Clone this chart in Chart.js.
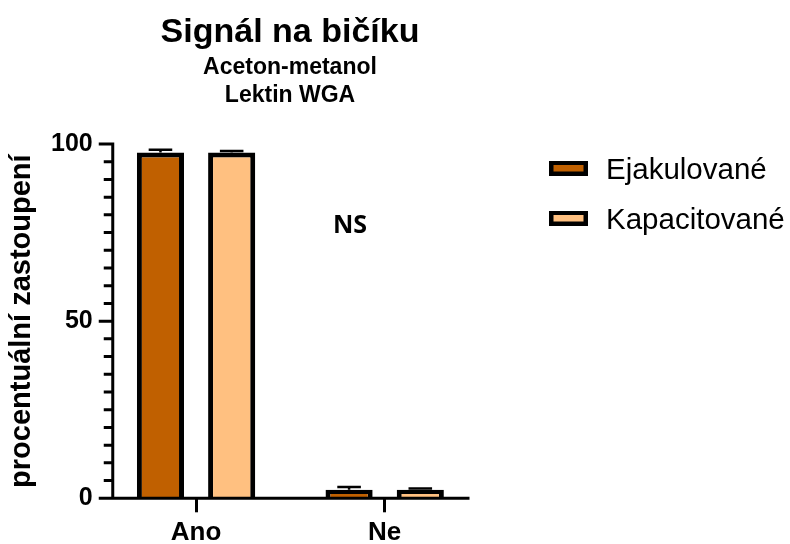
<!DOCTYPE html>
<html>
<head>
<meta charset="utf-8">
<script src="https://cdn.jsdelivr.net/npm/chart.js@4.4.1/dist/chart.umd.min.js"></script>
<style>
  html, body { margin: 0; padding: 0; background: #fff; }
  canvas { display: block; }
</style>
</head>
<body>
<canvas id="chart" width="790" height="544"></canvas>
<script>
const categories = ['Ano', 'Ne'];
const seriesNames = ['Ejakulované', 'Kapacitované'];
const ejakulovane = [97.6, 2.4];
const ejakulovaneErr = [0.8, 0.8];
const kapacitovane = [97.6, 2.4];
const kapacitovaneErr = [0.4, 0.4];
const yTicks = [0, 50, 100];

const FONT = "'Liberation Sans', Arial, sans-serif";
const AXIS_INSET = 11;   // axis lines sit a little inside the category band

const drawText = (ctx, text, x, y, font, align = 'center') => {
  ctx.save();
  ctx.font = font;
  ctx.fillStyle = '#000';
  ctx.textAlign = align;
  ctx.textBaseline = 'alphabetic';
  ctx.fillText(text, x, y);
  ctx.restore();
};

const decorations = {
  id: 'decorations',
  afterDatasetsDraw(chart) {
    const { ctx, chartArea, scales } = chart;
    const y = scales.y;
    const axisX = chartArea.left + AXIS_INSET;
    const axisRight = chartArea.right - 9.5;
    const y0 = y.getPixelForValue(0);
    const y100 = y.getPixelForValue(100);

    ctx.save();
    ctx.strokeStyle = '#000';
    ctx.lineCap = 'butt';

    // error bars (upper half only, lower half is hidden by the bar)
    chart.data.datasets.forEach((ds, di) => {
      const meta = chart.getDatasetMeta(di);
      meta.data.forEach((bar, i) => {
        const top = y.getPixelForValue(ds.data[i] + ds.errors[i]);
        const half = bar.width / 4;
        ctx.lineWidth = 2.5;
        ctx.beginPath();
        ctx.moveTo(bar.x, bar.y);
        ctx.lineTo(bar.x, top);
        ctx.moveTo(bar.x - half, top);
        ctx.lineTo(bar.x + half, top);
        ctx.stroke();
      });
    });

    // y axis with major and minor ticks
    ctx.lineWidth = 3;
    ctx.beginPath();
    ctx.moveTo(axisX, y100 - 1.5);
    ctx.lineTo(axisX, y0 + 1.5);
    for (let v = 0; v <= 100; v += 5) {
      const py = y.getPixelForValue(v);
      const len = yTicks.includes(v) ? 14 : 9;
      ctx.moveTo(axisX - len, py);
      ctx.lineTo(axisX, py);
    }
    // x axis
    ctx.moveTo(axisX - 1.5, y0);
    ctx.lineTo(axisRight, y0);
    ctx.stroke();
    ctx.restore();

    // titles
    const cx = 290;
    drawText(ctx, 'Signál na bičíku', cx, 42, `bold 34px ${FONT}`);
    drawText(ctx, 'Aceton-metanol', cx, 74, `bold 23px ${FONT}`);
    drawText(ctx, 'Lektin WGA', cx, 102, `bold 23px ${FONT}`);

    // significance note
    drawText(ctx, 'NS', 350, 233, `bold 25px 'Open Sans', sans-serif`);

    // legend
    chart.data.datasets.forEach((ds, di) => {
      const top = 161 + di * 50;
      ctx.save();
      ctx.fillStyle = '#000';
      ctx.fillRect(549, top, 39, 15);
      ctx.fillStyle = ds.backgroundColor;
      ctx.fillRect(553.5, top + 4, 30, 6.5);
      ctx.restore();
      drawText(ctx, ds.label, 606, top + 18, `29.5px ${FONT}`, 'left');
    });
  }
};

new Chart(document.getElementById('chart').getContext('2d'), {
  type: 'bar',
  data: {
    labels: categories,
    datasets: [
      {
        label: seriesNames[0],
        data: ejakulovane,
        errors: ejakulovaneErr,
        backgroundColor: '#C06000',
      },
      {
        label: seriesNames[1],
        data: kapacitovane,
        errors: kapacitovaneErr,
        backgroundColor: '#FFC080',
      },
    ].map((ds) => ({
      ...ds,
      borderColor: '#000',
      borderWidth: 5,
      borderSkipped: 'start',
      categoryPercentage: 0.755,
      barPercentage: 0.662,
    })),
  },
  options: {
    responsive: false,
    animation: false,
    devicePixelRatio: 1,
    layout: { padding: { top: 144, right: 311, bottom: 0, left: 0 } },
    plugins: {
      legend: { display: false },
      tooltip: { enabled: false },
    },
    scales: {
      x: {
        afterFit: (scale) => { scale.height = 45.7; },
        border: { display: false },
        grid: {
          offset: false,
          drawOnChartArea: false,
          color: '#000',
          lineWidth: 3,
          tickLength: 14,
        },
        ticks: {
          color: '#000',
          padding: 5,
          font: { family: FONT, size: 26, weight: 'bold' },
        },
      },
      y: {
        min: 0,
        max: 100,
        afterFit: (scale) => { scale.width = 101.75; },
        afterBuildTicks: (scale) => { scale.ticks = yTicks.map((value) => ({ value })); },
        border: { display: false },
        grid: { display: false, drawTicks: false },
        ticks: {
          color: '#000',
          padding: 9,
          font: { family: FONT, size: 25, weight: 'bold' },
        },
        title: {
          display: true,
          text: 'procentuální zastoupení',
          color: '#000',
          padding: { top: 5, bottom: 0 },
          font: { family: FONT, size: 29, weight: 'bold' },
        },
      },
    },
  },
  plugins: [decorations],
});
</script>
</body>
</html>
